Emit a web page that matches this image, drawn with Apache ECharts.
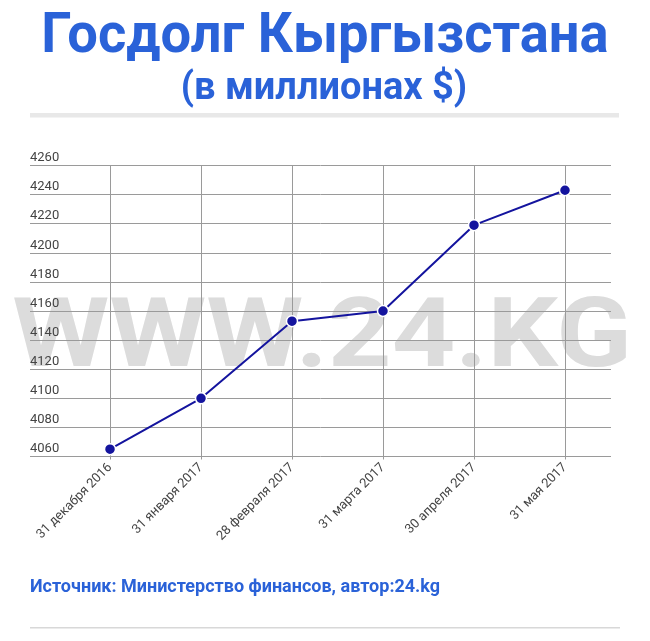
<!DOCTYPE html>
<html>
<head>
<meta charset="utf-8">
<script src="https://cdn.jsdelivr.net/npm/echarts@6/dist/echarts.min.js"></script>
<style>html,body{margin:0;padding:0;background:#fff}#c{width:650px;height:641px}</style>
</head>
<body>
<div id="c"></div>
<script>
var titleText = 'Госдолг Кыргызстана';
var subtitleText = '(в миллионах $)';
var sourceText = 'Источник: Министерство финансов, автор:24.kg';
var watermarkText = 'WWW.24.KG';
var categories = ['31 декабря 2016', '31 января 2017', '28 февраля 2017', '31 марта 2017', '30 апреля 2017', '31 мая 2017'];
var debtValues = [4065, 4100, 4153, 4160, 4219, 4243];
var yMin = 4060, yMax = 4260, yStep = 20;

var blue = '#2a62d8';
var lineColor = '#14149e';
var gridColor = '#9a9a9a';
var gridTop = 165.5, gridHeight = 291;

var chart = echarts.init(document.getElementById('c'), null, {renderer: 'canvas'});
chart.setOption({
  animation: false,
  backgroundColor: '#fff',
  graphic: [
    {type: 'text', z: -10, x: 322, y: 342, scaleX: 1.155,
     style: {text: watermarkText, font: 'bold 96px Roboto, "Liberation Sans", sans-serif', fill: '#dcdcdc', textAlign: 'center', textVerticalAlign: 'middle'}},
    {type: 'text', x: 325, y: 38, scaleX: 0.97,
     style: {text: titleText, font: 'bold 56px Roboto, sans-serif', fill: blue, textAlign: 'center', textVerticalAlign: 'middle'}},
    {type: 'text', x: 324, y: 89,
     style: {text: subtitleText, font: 'bold 38px Roboto, sans-serif', fill: blue, textAlign: 'center', textVerticalAlign: 'middle'}},
    {type: 'rect', shape: {x: 30, y: 113, width: 589, height: 4.5}, style: {fill: '#e8e8e8'}},
    {type: 'text', x: 30, y: 587,
     style: {text: sourceText, font: 'bold 18px Roboto, sans-serif', fill: blue, textAlign: 'left', textVerticalAlign: 'middle'}},
    {type: 'rect', shape: {x: 30, y: 627, width: 590, height: 1.5}, style: {fill: '#d8d8d8'}}
  ],
  grid: [
    {left: 30, width: 581, top: gridTop, height: gridHeight},
    {left: 110, width: 455, top: gridTop, height: gridHeight}
  ],
  xAxis: [
    {gridIndex: 0, type: 'value', show: false, min: 0, max: 1},
    {gridIndex: 1, type: 'category', data: categories, boundaryGap: false,
     axisLine: {show: false},
     axisTick: {show: true, length: 3, lineStyle: {color: gridColor}},
     splitLine: {show: true, lineStyle: {color: gridColor, width: 1}},
     axisLabel: {rotate: 45, interval: 0, margin: 9, color: '#444', fontSize: 13, fontFamily: 'Roboto, sans-serif'}}
  ],
  yAxis: [
    {gridIndex: 0, type: 'value', min: yMin, max: yMax, interval: yStep,
     axisLine: {show: false}, axisTick: {show: false},
     splitLine: {show: true, lineStyle: {color: gridColor, width: 1}},
     axisLabel: {inside: true, margin: 0, color: '#444', fontSize: 13, fontFamily: 'Roboto, sans-serif', verticalAlign: 'bottom', padding: [0, 0, 1, 0],
       formatter: function (v) { return String(v); }}},
    {gridIndex: 1, type: 'value', min: yMin, max: yMax, interval: yStep, show: false, splitLine: {show: false}}
  ],
  series: [{
    type: 'line', xAxisIndex: 1, yAxisIndex: 1, data: debtValues,
    symbol: 'circle', symbolSize: 11, showSymbol: true,
    lineStyle: {color: lineColor, width: 2},
    itemStyle: {color: lineColor, borderColor: '#fff', borderWidth: 1.5}
  }]
});
</script>
</body>
</html>
